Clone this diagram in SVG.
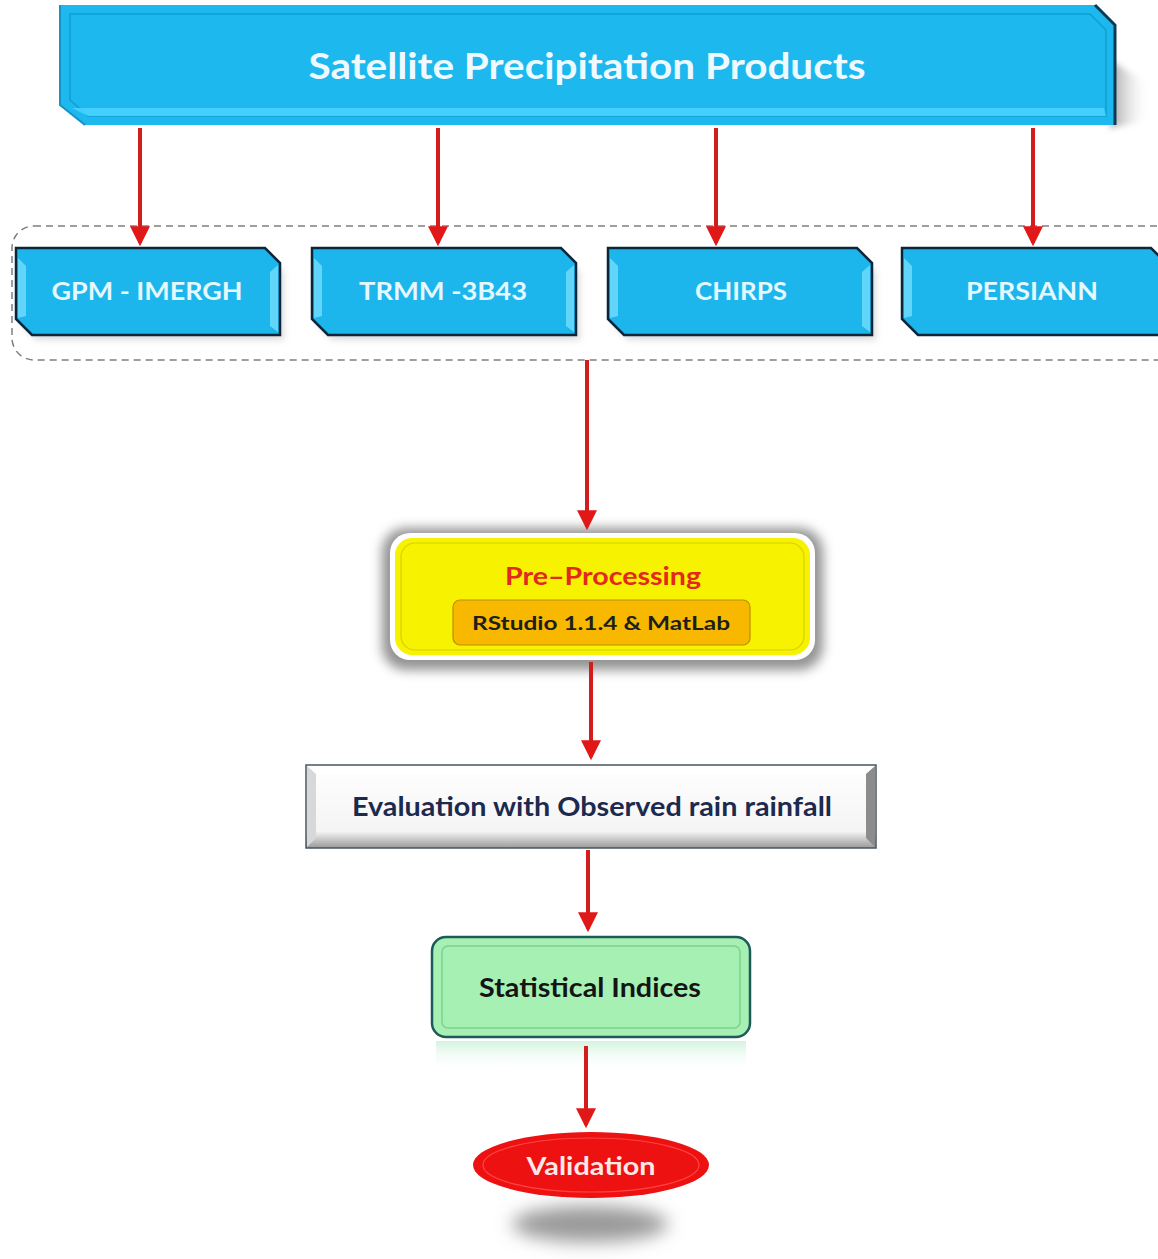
<svg xmlns="http://www.w3.org/2000/svg" width="1158" height="1259" viewBox="0 0 1158 1259">
<defs>
  <style>
    .t { font-family: Lato, "Open Sans", "Liberation Sans", sans-serif; font-weight: bold; text-anchor: middle; }
    .prod { fill: #1cb6ec; stroke: #0b2638; stroke-width: 2.5; }
    .bev { fill: #62d6fa; }
    .conn { stroke: #d21d1d; stroke-width: 4; fill: none; marker-end: url(#ah); }
  </style>
  <marker id="ah" markerWidth="5" markerHeight="5" refX="4.2" refY="2.5" orient="auto" markerUnits="strokeWidth">
    <path d="M0,0 L5,2.5 L0,5 Z" fill="#e01818"/>
  </marker>
  <filter id="blur6" x="-30%" y="-30%" width="160%" height="160%"><feGaussianBlur stdDeviation="6"/></filter>
  <filter id="blur3" x="-30%" y="-30%" width="160%" height="160%"><feGaussianBlur stdDeviation="3"/></filter>
  <filter id="blur10" x="-50%" y="-80%" width="200%" height="260%"><feGaussianBlur stdDeviation="9"/></filter>
  <linearGradient id="evalg" x1="0" y1="0" x2="0" y2="1">
    <stop offset="0" stop-color="#ffffff"/>
    <stop offset="0.8" stop-color="#f4f4f4"/>
    <stop offset="1" stop-color="#9a9a9a"/>
  </linearGradient>
  <linearGradient id="refl" x1="0" y1="0" x2="0" y2="1">
    <stop offset="0" stop-color="#bfeed0" stop-opacity="0.7"/>
    <stop offset="1" stop-color="#ffffff" stop-opacity="0"/>
  </linearGradient>
  <linearGradient id="tshadow" x1="0" y1="0" x2="1" y2="0">
    <stop offset="0" stop-color="#888888"/>
    <stop offset="1" stop-color="#ffffff" stop-opacity="0"/>
  </linearGradient>
</defs>
<rect width="1158" height="1259" fill="#ffffff"/>

<!-- Title banner -->
<g id="title">
  <polygon points="1110,60 1150,85 1150,120 1110,128" fill="url(#tshadow)" opacity="0.8" filter="url(#blur3)"/>
  <polygon points="60,5 1095,5 1115,25 1115,125 85,125 60,105" fill="#1cb8ee"/>
  <polygon points="70,14 1090,14 1106,30 1106,116 88,116 70,100" fill="none" stroke="#0e9ed2" stroke-width="1.5"/>
  <polygon points="72,108 1104,108 1106,116 88,116" fill="#4fd6ff" opacity="0.8"/>
  <polyline points="1095,5 1115,25 1115,125" fill="none" stroke="#0d3a55" stroke-width="3"/>
  <polyline points="60,5 60,105 85,125" fill="none" stroke="#1593c4" stroke-width="2"/>
  <text class="t" x="587" y="79" font-size="36" fill="#eefaff" textLength="557" lengthAdjust="spacingAndGlyphs">Satellite Precipitation Products</text>
</g>

<!-- Dashed grouping -->
<g id="group">
  <rect x="12" y="226" width="1170" height="134" rx="22" ry="22" fill="none" stroke="#7f7f7f" stroke-width="1.5" stroke-dasharray="7,5"/>
</g>

<!-- Product boxes -->
<g id="gpm">
  <polygon points="20,255 266,255 284,272 284,340 36,340 20,324" fill="#bbbbbb" opacity="0.5" filter="url(#blur3)"/>
  <polygon class="prod" points="16,248 265,248 280,263 280,335 32,335 16,319"/>
  <polygon class="bev" points="18,258 26,266 26,316 18,318"/>
  <polygon class="bev" points="278,265 270,272 270,326 278,332"/>
  <text class="t" x="147" y="300" font-size="25" fill="#e6f8ff" textLength="191" lengthAdjust="spacingAndGlyphs">GPM - IMERGH</text>
</g>
<g id="trmm">
  <polygon points="316,255 562,255 580,272 580,340 332,340 316,324" fill="#bbbbbb" opacity="0.5" filter="url(#blur3)"/>
  <polygon class="prod" points="312,248 561,248 576,263 576,335 328,335 312,319"/>
  <polygon class="bev" points="314,258 322,266 322,316 314,318"/>
  <polygon class="bev" points="574,265 566,272 566,326 574,332"/>
  <text class="t" x="443" y="300" font-size="25" fill="#e6f8ff" textLength="168" lengthAdjust="spacingAndGlyphs">TRMM -3B43</text>
</g>
<g id="chirps">
  <polygon points="612,255 858,255 876,272 876,340 628,340 612,324" fill="#bbbbbb" opacity="0.5" filter="url(#blur3)"/>
  <polygon class="prod" points="608,248 857,248 872,263 872,335 624,335 608,319"/>
  <polygon class="bev" points="610,258 618,266 618,316 610,318"/>
  <polygon class="bev" points="870,265 862,272 862,326 870,332"/>
  <text class="t" x="741" y="300" font-size="25" fill="#e6f8ff" textLength="92" lengthAdjust="spacingAndGlyphs">CHIRPS</text>
</g>
<g id="persiann">
  <polygon class="prod" points="902,248 1151,248 1166,263 1166,335 918,335 902,319"/>
  <polygon class="bev" points="904,258 912,266 912,316 904,318"/>
  <text class="t" x="1032" y="300" font-size="25" fill="#e6f8ff" textLength="132" lengthAdjust="spacingAndGlyphs">PERSIANN</text>
</g>

<!-- Pre-processing -->
<g id="preprocessing">
  <rect x="382" y="528" width="441" height="142" rx="24" fill="#777777" opacity="0.8" filter="url(#blur6)"/>
  <rect x="390" y="533" width="425" height="127" rx="20" fill="#ffffff"/>
  <rect x="395" y="538" width="415" height="117" rx="17" fill="#f7f200"/>
  <rect x="401" y="543" width="403" height="107" rx="14" fill="none" stroke="#d8d000" stroke-width="1.2"/>
  <text class="t" x="603" y="585" font-size="24" fill="#e3281e" textLength="196" lengthAdjust="spacingAndGlyphs">Pre–Processing</text>
  <rect x="453" y="600" width="297" height="45" rx="7" fill="#f8b800" stroke="#b89000" stroke-width="1.2"/>
  <text class="t" x="601" y="630" font-size="19" fill="#1e1e1e" textLength="258" lengthAdjust="spacingAndGlyphs">RStudio 1.1.4 &amp; MatLab</text>
</g>

<!-- Evaluation -->
<g id="evaluation">
  <rect x="306" y="765" width="570" height="83" fill="url(#evalg)" stroke="#4a5560" stroke-width="1.5"/>
  <polygon points="307,766 875,766 866,774 316,774" fill="#ffffff"/>
  <polygon points="866,774 875,766 875,847 866,838" fill="#8c8c8c"/>
  <polygon points="307,766 316,774 316,838 307,847" fill="#d8d8d8"/>
  <text class="t" x="592" y="816" font-size="26" fill="#1b2a4e" textLength="480" lengthAdjust="spacingAndGlyphs">Evaluation with Observed rain rainfall</text>
</g>

<!-- Statistical Indices -->
<g id="statistical">
  <rect x="436" y="1041" width="310" height="30" fill="url(#refl)"/>
  <rect x="432" y="937" width="318" height="100" rx="14" fill="#a6f0b4" stroke="#1f5a5a" stroke-width="2.5"/>
  <rect x="442" y="946" width="298" height="82" rx="6" fill="none" stroke="#7fd08f" stroke-width="1.5"/>
  <text class="t" x="590" y="997" font-size="26" fill="#141414" textLength="222" lengthAdjust="spacingAndGlyphs">Statistical Indices</text>
</g>

<!-- Validation -->
<g id="validation">
  <ellipse cx="590" cy="1224" rx="78" ry="18" fill="#9a9a9a" filter="url(#blur10)"/>
  <ellipse cx="591" cy="1165" rx="118" ry="33" fill="#ee1111"/>
  <ellipse cx="591" cy="1165" rx="108" ry="27" fill="none" stroke="#f44" stroke-width="1.2"/>
  <text class="t" x="591" y="1175" font-size="24" fill="#fbe8e8" textLength="129" lengthAdjust="spacingAndGlyphs">Validation</text>
</g>

<!-- Connectors -->
<g id="connectors">
  <line class="conn" x1="140" y1="128" x2="140" y2="243"/>
  <line class="conn" x1="438" y1="128" x2="438" y2="243"/>
  <line class="conn" x1="716" y1="128" x2="716" y2="243"/>
  <line class="conn" x1="1033" y1="128" x2="1033" y2="243"/>
  <line class="conn" x1="587" y1="360" x2="587" y2="527"/>
  <line class="conn" x1="591" y1="662" x2="591" y2="757"/>
  <line class="conn" x1="588" y1="850" x2="588" y2="929"/>
  <line class="conn" x1="586" y1="1046" x2="586" y2="1125"/>
</g>
</svg>
